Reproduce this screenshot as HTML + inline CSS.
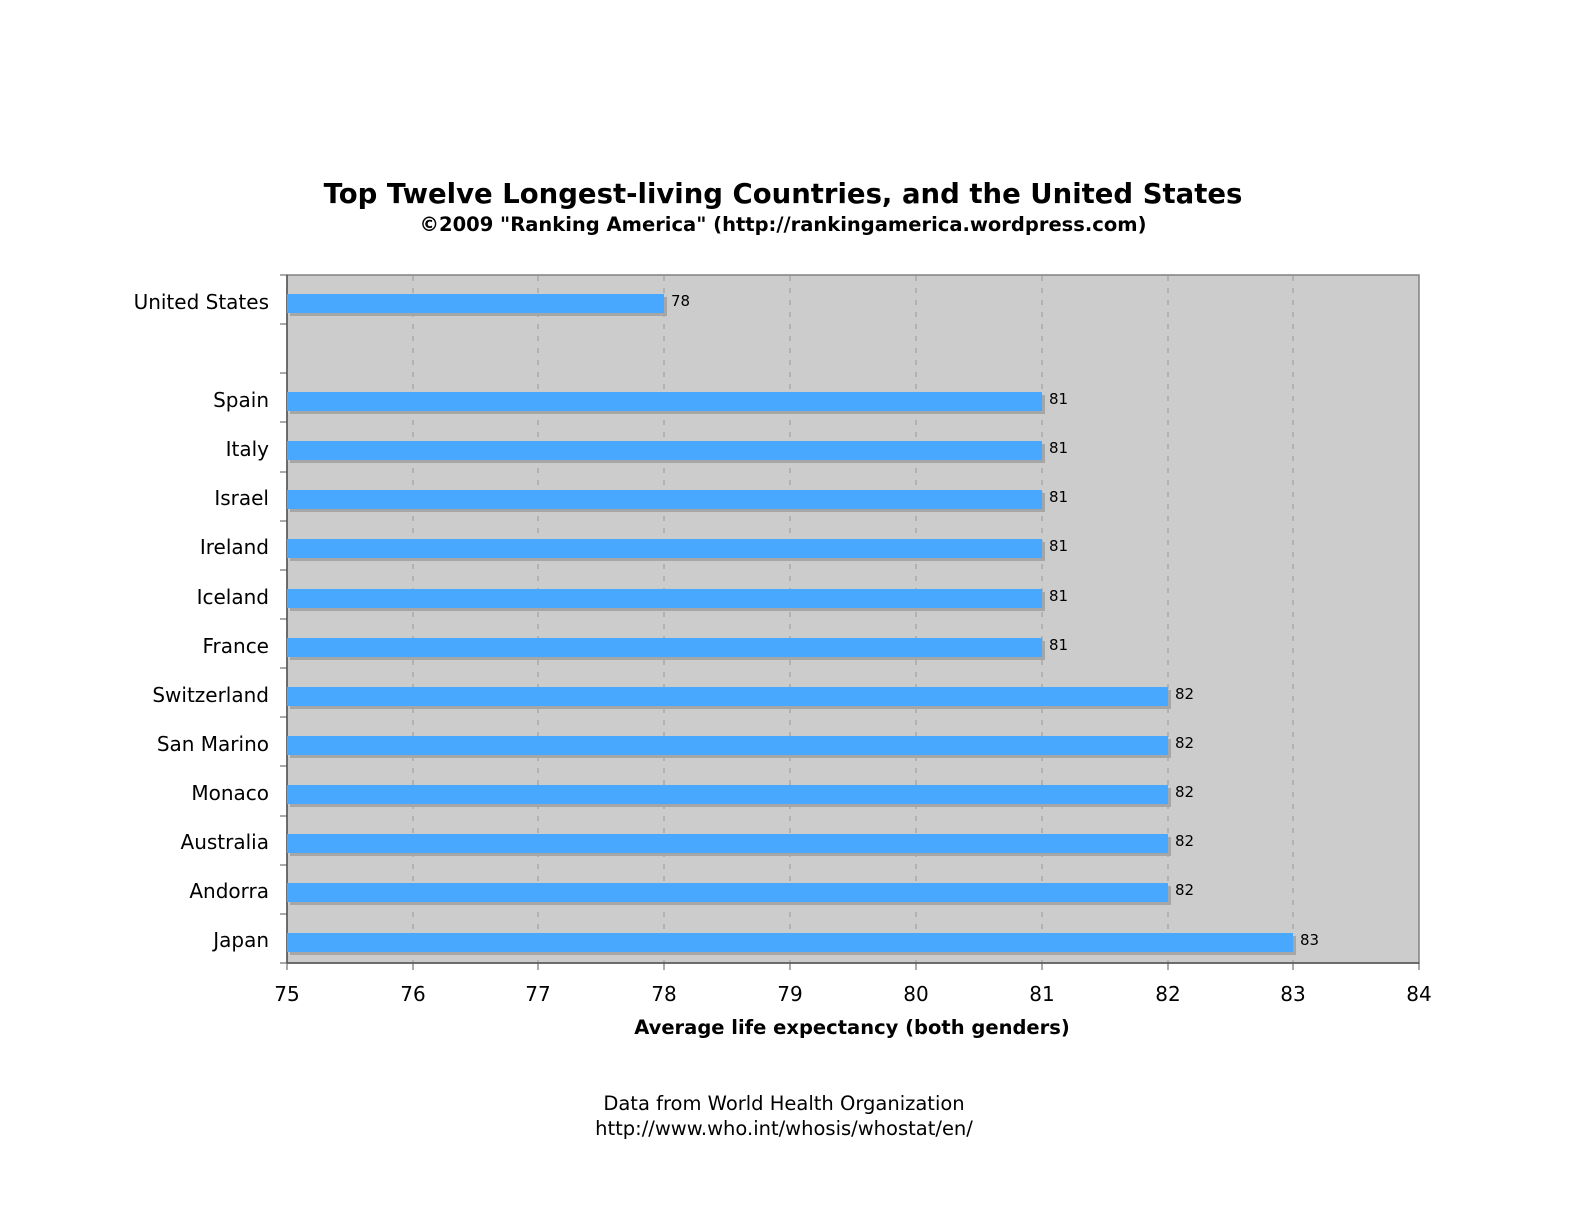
<!DOCTYPE html>
<html><head><meta charset="utf-8"><style>html,body{margin:0;padding:0;background:#fff;overflow:hidden;width:1584px;height:1224px}svg{display:block}</style></head>
<body>
<svg width="1584" height="1224" viewBox="0 0 1584 1224" xmlns="http://www.w3.org/2000/svg" font-family="DejaVu Sans, Liberation Sans, sans-serif">
<text x="783" y="203" text-anchor="middle" font-size="27.5" font-weight="bold">Top Twelve Longest-living Countries, and the United States</text>
<text x="783" y="231" text-anchor="middle" font-size="19.5" font-weight="bold">©2009 "Ranking America" (http://rankingamerica.wordpress.com)</text>
<rect x="287" y="275" width="1132" height="688" fill="#cccccc" stroke="#808080" stroke-width="1.5"/>
<g stroke="#999" stroke-dasharray="5,7" stroke-width="1">
<line x1="413" y1="276" x2="413" y2="962"/><line x1="538" y1="276" x2="538" y2="962"/><line x1="664" y1="276" x2="664" y2="962"/><line x1="790" y1="276" x2="790" y2="962"/><line x1="916" y1="276" x2="916" y2="962"/><line x1="1042" y1="276" x2="1042" y2="962"/><line x1="1168" y1="276" x2="1168" y2="962"/><line x1="1293" y1="276" x2="1293" y2="962"/>
</g>
<line x1="287" y1="275" x2="287" y2="963" stroke="#555" stroke-width="1.5"/>
<line x1="287" y1="963" x2="1419" y2="963" stroke="#555" stroke-width="1.5"/>
<g stroke="#555" stroke-width="1">
<line x1="280" y1="275" x2="287" y2="275"/><line x1="280" y1="324" x2="287" y2="324"/><line x1="280" y1="373" x2="287" y2="373"/><line x1="280" y1="422" x2="287" y2="422"/><line x1="280" y1="472" x2="287" y2="472"/><line x1="280" y1="521" x2="287" y2="521"/><line x1="280" y1="570" x2="287" y2="570"/><line x1="280" y1="619" x2="287" y2="619"/><line x1="280" y1="668" x2="287" y2="668"/><line x1="280" y1="717" x2="287" y2="717"/><line x1="280" y1="766" x2="287" y2="766"/><line x1="280" y1="816" x2="287" y2="816"/><line x1="280" y1="865" x2="287" y2="865"/><line x1="280" y1="914" x2="287" y2="914"/><line x1="280" y1="963" x2="287" y2="963"/>
<line x1="287" y1="963" x2="287" y2="970"/><line x1="413" y1="963" x2="413" y2="970"/><line x1="538" y1="963" x2="538" y2="970"/><line x1="664" y1="963" x2="664" y2="970"/><line x1="790" y1="963" x2="790" y2="970"/><line x1="916" y1="963" x2="916" y2="970"/><line x1="1042" y1="963" x2="1042" y2="970"/><line x1="1168" y1="963" x2="1168" y2="970"/><line x1="1293" y1="963" x2="1293" y2="970"/><line x1="1419" y1="963" x2="1419" y2="970"/>
</g>
<g font-size="20" text-anchor="end" fill="#000">
<text x="269" y="309">United States</text><text x="269" y="407">Spain</text><text x="269" y="456">Italy</text><text x="269" y="505">Israel</text><text x="269" y="554">Ireland</text><text x="269" y="604">Iceland</text><text x="269" y="653">France</text><text x="269" y="702">Switzerland</text><text x="269" y="751">San Marino</text><text x="269" y="800">Monaco</text><text x="269" y="849">Australia</text><text x="269" y="898">Andorra</text><text x="269" y="947">Japan</text>
</g>
<g>
<rect x="290" y="297" width="377" height="19" fill="#a6a6a6"/><rect x="287" y="294" width="377" height="19" fill="#47a8fe"/>
<rect x="290" y="395" width="755" height="19" fill="#a6a6a6"/><rect x="287" y="392" width="755" height="19" fill="#47a8fe"/>
<rect x="290" y="444" width="755" height="19" fill="#a6a6a6"/><rect x="287" y="441" width="755" height="19" fill="#47a8fe"/>
<rect x="290" y="493" width="755" height="19" fill="#a6a6a6"/><rect x="287" y="490" width="755" height="19" fill="#47a8fe"/>
<rect x="290" y="542" width="755" height="19" fill="#a6a6a6"/><rect x="287" y="539" width="755" height="19" fill="#47a8fe"/>
<rect x="290" y="592" width="755" height="19" fill="#a6a6a6"/><rect x="287" y="589" width="755" height="19" fill="#47a8fe"/>
<rect x="290" y="641" width="755" height="19" fill="#a6a6a6"/><rect x="287" y="638" width="755" height="19" fill="#47a8fe"/>
<rect x="290" y="690" width="881" height="19" fill="#a6a6a6"/><rect x="287" y="687" width="881" height="19" fill="#47a8fe"/>
<rect x="290" y="739" width="881" height="19" fill="#a6a6a6"/><rect x="287" y="736" width="881" height="19" fill="#47a8fe"/>
<rect x="290" y="788" width="881" height="19" fill="#a6a6a6"/><rect x="287" y="785" width="881" height="19" fill="#47a8fe"/>
<rect x="290" y="837" width="881" height="19" fill="#a6a6a6"/><rect x="287" y="834" width="881" height="19" fill="#47a8fe"/>
<rect x="290" y="886" width="881" height="19" fill="#a6a6a6"/><rect x="287" y="883" width="881" height="19" fill="#47a8fe"/>
<rect x="290" y="936" width="1006" height="19" fill="#a6a6a6"/><rect x="287" y="933" width="1006" height="19" fill="#47a8fe"/>
</g>
<g font-size="15" fill="#000">
<text x="671" y="306">78</text><text x="1049" y="404">81</text><text x="1049" y="453">81</text><text x="1049" y="502">81</text><text x="1049" y="551">81</text><text x="1049" y="601">81</text><text x="1049" y="650">81</text><text x="1175" y="699">82</text><text x="1175" y="748">82</text><text x="1175" y="797">82</text><text x="1175" y="846">82</text><text x="1175" y="895">82</text><text x="1300" y="945">83</text>
</g>
<g font-size="20" text-anchor="middle" fill="#000">
<text x="287" y="1001">75</text><text x="413" y="1001">76</text><text x="538" y="1001">77</text><text x="664" y="1001">78</text><text x="790" y="1001">79</text><text x="916" y="1001">80</text><text x="1042" y="1001">81</text><text x="1168" y="1001">82</text><text x="1293" y="1001">83</text><text x="1419" y="1001">84</text>
</g>
<text x="852" y="1034" text-anchor="middle" font-size="19.5" font-weight="bold">Average life expectancy (both genders)</text>
<text x="784" y="1110" text-anchor="middle" font-size="19.5">Data from World Health Organization</text>
<text x="784" y="1135" text-anchor="middle" font-size="19.5">http://www.who.int/whosis/whostat/en/</text>
</svg>
</body></html>
